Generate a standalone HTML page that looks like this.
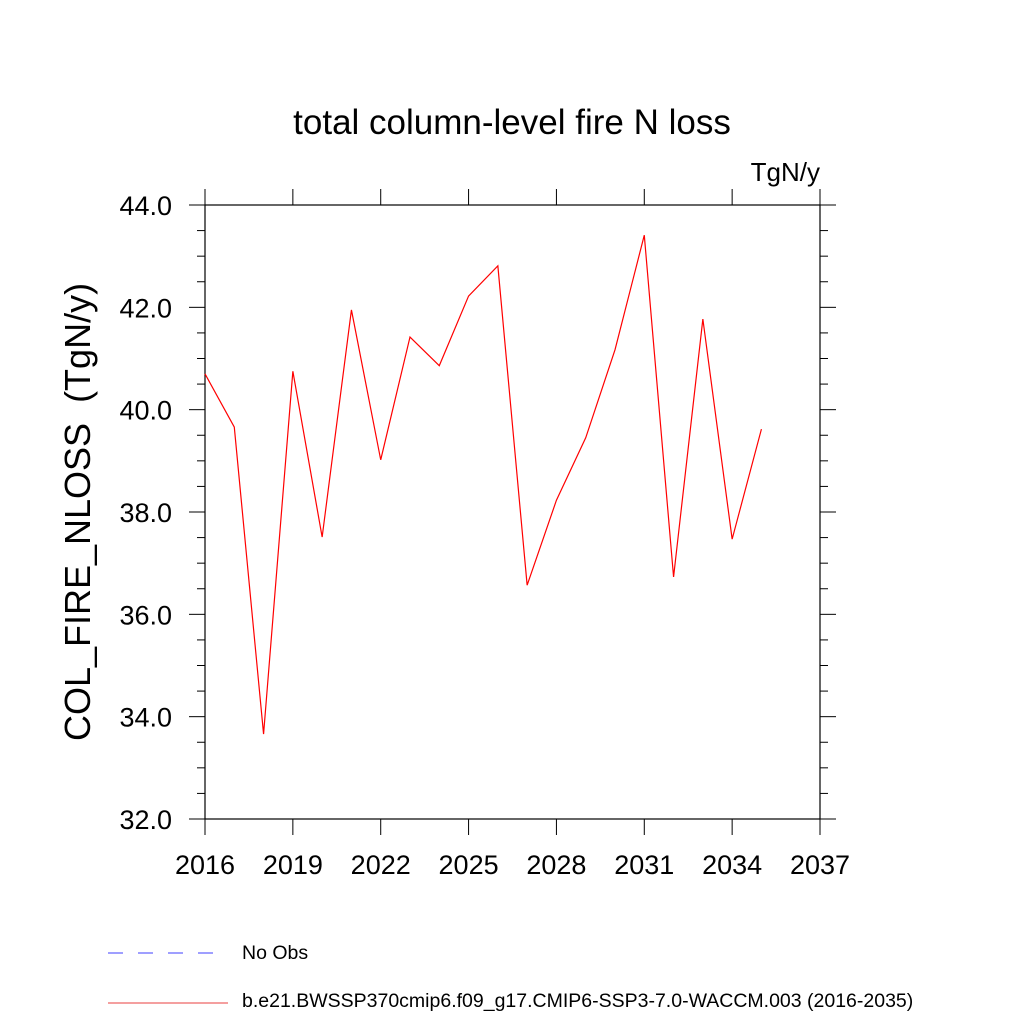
<!DOCTYPE html>
<html><head><meta charset="utf-8"><style>
html,body{margin:0;padding:0;background:#fff;}
svg text{font-family:"Liberation Sans",sans-serif;fill:#000;}
</style></head><body>
<svg id="chart" width="1024" height="1024" viewBox="0 0 1024 1024" xmlns="http://www.w3.org/2000/svg">
<text x="512" y="134" font-size="35" text-anchor="middle">total column-level fire N loss</text>
<text x="820" y="181" font-size="26" text-anchor="end">TgN/y</text>
<text transform="translate(90,512) rotate(-90)" font-size="36" text-anchor="middle">COL_FIRE_NLOSS&#160;&#160;(TgN/y)</text>
<g id="axes"></g>
<g id="series"></g>
<g>
<line x1="108" y1="953" x2="216" y2="953" stroke="#6666ff" stroke-width="1.2" stroke-dasharray="15,15"/>
<text x="242" y="959" font-size="19.5">No Obs</text>
<line x1="108" y1="1003" x2="228" y2="1003" stroke="#ee6666" stroke-width="1.2"/>
<text x="242" y="1007" font-size="19.5">b.e21.BWSSP370cmip6.f09_g17.CMIP6-SSP3-7.0-WACCM.003 (2016-2035)</text>
</g>
</svg>
<script>
const years=[2016,2017,2018,2019,2020,2021,2022,2023,2024,2025,2026,2027,2028,2029,2030,2031,2032,2033,2034,2035];
const values=[40.70,39.66,33.66,40.75,37.51,41.95,39.02,41.42,40.86,42.22,42.81,36.57,38.23,39.45,41.17,43.41,36.73,41.77,37.47,39.62];
const xTicks=[2016,2019,2022,2025,2028,2031,2034,2037];
const yTicks=[32,34,36,38,40,42,44];
const NS='http://www.w3.org/2000/svg';
const L=205,R=820,T=205,B=819,xMin=2016,xMax=2037,yMin=32,yMax=44;
const sx=v=>L+(v-xMin)/(xMax-xMin)*(R-L);
const sy=v=>B-(v-yMin)/(yMax-yMin)*(B-T);
const axes=document.getElementById('axes');
function mk(tag,attrs,parent){const e=document.createElementNS(NS,tag);for(const k in attrs)e.setAttribute(k,attrs[k]);parent.appendChild(e);return e;}
const frame=mk('rect',{x:L,y:T,width:R-L,height:B-T,fill:'none',stroke:'#000','stroke-width':1.2},axes);


for(let v=yMin;v<=yMax+1e-9;v+=0.5){
  const major=Math.abs(v-Math.round(v/2)*2)<1e-9;const len=major?16:8;const y=sy(v);
  const a=mk('line',{x1:L-len,y1:y,x2:L,y2:y,stroke:'#000','stroke-width':1},axes);
  
  
  const b=mk('line',{x1:R,y1:y,x2:R+len,y2:y,stroke:'#000','stroke-width':1},axes);
  
  
}
yTicks.forEach(v=>{const t=mk('text',{x:L-33,y:sy(v)+10,'font-size':27,'text-anchor':'end'},axes);t.textContent=v.toFixed(1);
  
  });
xTicks.forEach(v=>{const x=sx(v);
  const a=mk('line',{x1:x,y1:B,x2:x,y2:B+16,stroke:'#000','stroke-width':1},axes);
  
  
  const b=mk('line',{x1:x,y1:T-16,x2:x,y2:T,stroke:'#000','stroke-width':1},axes);
  
  
  const t=mk('text',{x:x,y:874,'font-size':27,'text-anchor':'middle'},axes);t.textContent=v;
  
  });
const pl=mk('polyline',{points:years.map((y,i)=>sx(y)+','+sy(values[i])).join(' '),fill:'none',stroke:'#ff0000','stroke-width':1.2},document.getElementById('series'));


</script>
</body></html>
